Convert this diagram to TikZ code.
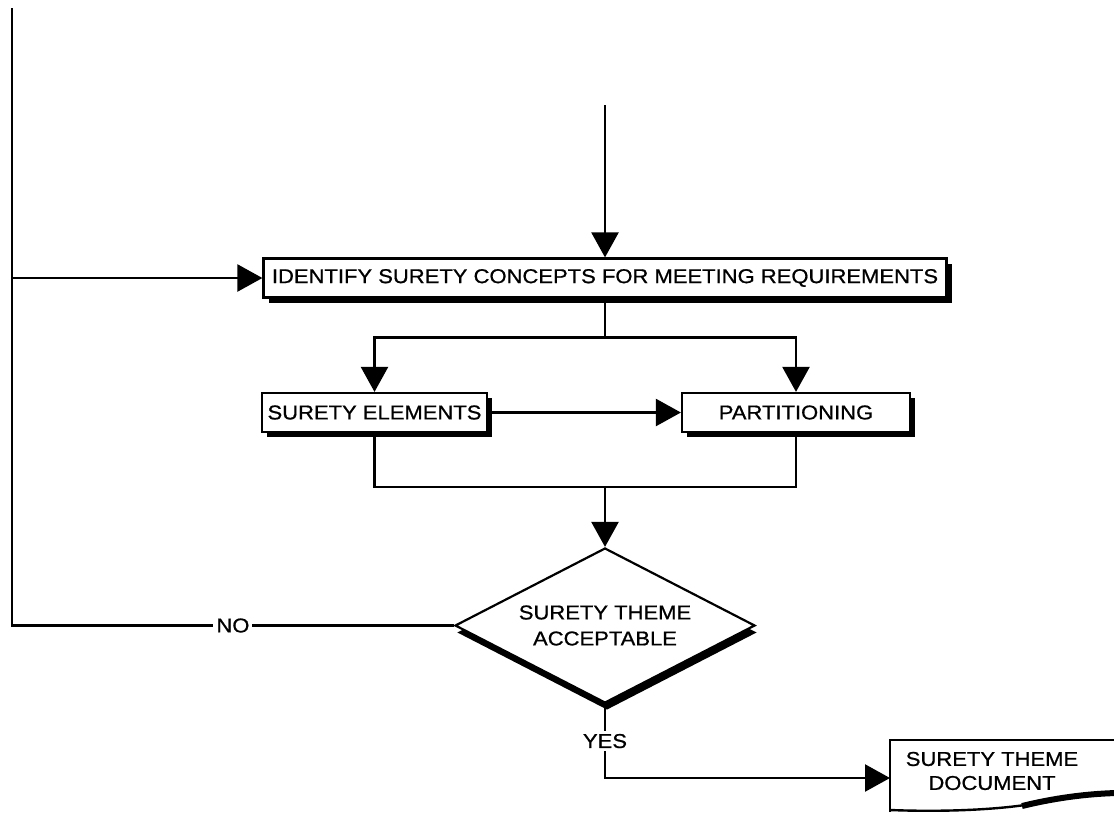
\documentclass[tikz,border=0pt]{standalone}
\usepackage{fontspec}
\setmainfont[FakeStretch=1.1,FakeBold=0.8]{Liberation Sans}
\usetikzlibrary{arrows.meta,positioning,shapes.geometric,shadows}

\begin{document}
\begin{tikzpicture}[
  x=1pt, y=-1pt,
  font=\fontsize{20}{24}\selectfont,
  line width=2.4pt,
  >={Triangle[length=25pt,width=27pt]},
  flow/.style={->},
  procbox/.style={
    draw,
    fill=white,
    line width=2.2pt,
    minimum height=39pt,
    inner sep=0pt,
    drop shadow={shadow xshift=5pt, shadow yshift=-5pt, fill=black, opacity=1}
  },
  decision/.style={
    diamond,
    draw,
    fill=white,
    line width=2.2pt,
    aspect=2,
    minimum width=300pt,
    minimum height=155pt,
    inner sep=0pt,
    align=center,
    drop shadow={shadow xshift=2pt, shadow yshift=-7pt, fill=black, opacity=1}
  },
  edgelabel/.style={
    fill=white,
    inner sep=3pt
  }
]
  \useasboundingbox (0,0) rectangle (1114,812);

  % --- Concept step ---
  \node[procbox, minimum width=683pt] (identify) at (605,278) {IDENTIFY SURETY CONCEPTS FOR MEETING REQUIREMENTS};

  % --- Elements and partitioning ---
  \node[procbox, minimum width=225pt] (elements) at (374.5,412.5) {SURETY ELEMENTS};
  \node[procbox, minimum width=228pt] (partition) at (796,412.5) {PARTITIONING};

  % --- Decision ---
  \node[decision] (theme) at (605,625.5) {SURETY THEME\\[2pt]ACCEPTABLE};

  % --- Output document ---
  \node[align=center] (doc) at (992,771) {SURETY THEME\\DOCUMENT};
  \draw (890,812) -- (890,740) -- (1116,740);
  \draw (890,810) .. controls (940,812) and (990,810) .. (1025,805);
  \draw[line width=6pt] (1022,806) .. controls (1055,798) and (1085,794) .. (1116,793);

  % Free ends of the connectors
  \coordinate (entry) at (605,105);
  \coordinate (looptop) at (12,8);
  \coordinate (merge) at (605,487);
  \coordinate (docin) at (890,778);

  % Connectors
  \draw[flow] (entry) -- (identify.north);
  \draw (identify.south) -- ++(0,39) coordinate (split);
  \draw[flow] (split) -| (elements.north);
  \draw[flow] (split) -| (partition.north);
  \draw[flow] (elements.east) -- (partition.west);
  \draw (elements.south) |- (merge) -| (partition.south);
  \draw[flow] (merge) -- (theme.north);

  \draw (theme.west) -- node[edgelabel] {NO} (looptop |- theme.west) -- (looptop);
  \draw[flow] (looptop |- identify.west) -- (identify.west);

  \draw[flow] (theme.south) -- node[edgelabel] {YES} (theme.south |- docin) -- (docin);

\end{tikzpicture}
\end{document}
